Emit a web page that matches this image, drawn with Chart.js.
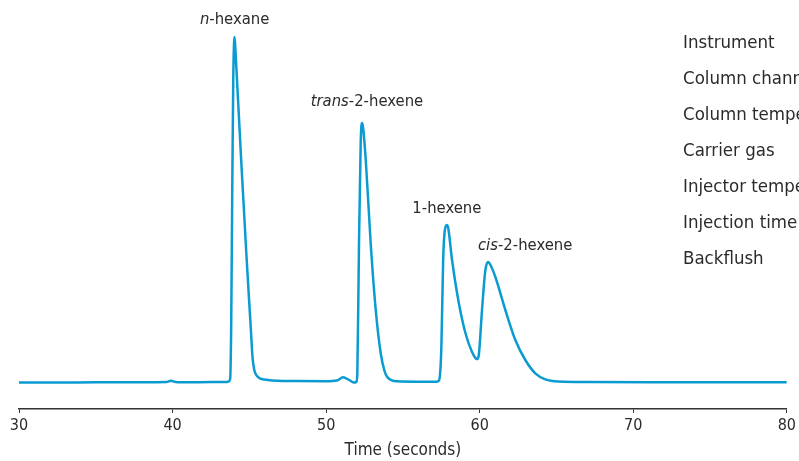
<!DOCTYPE html>
<html>
<head>
<meta charset="utf-8">
<script src="https://cdn.jsdelivr.net/npm/chart.js@4"></script>
<style>
  body { margin: 0; background: #fff; }
</style>
</head>
<body>
<canvas id="chromChart" width="799" height="461"></canvas>
<script>
// Retention time (s) and detector signal (arbitrary units)
const times = [
  30, 32, 35, 38, 39.6, 39.9, 40.2, 41, 42.5, 43.5,
  43.65, 43.75, 43.82, 43.88, 43.95, 44.0, 44.04, 44.1, 44.46, 44.82,
  45.1, 45.21, 45.32, 45.45, 45.6, 45.8, 46.2, 46.8, 48, 50,
  50.7, 51.1, 51.5, 51.8, 51.97, 52.03, 52.14, 52.25, 52.33, 52.4,
  52.58, 52.9, 53.23, 53.55, 53.8, 53.98, 54.3, 54.6, 56, 57.2,
  57.35, 57.45, 57.51, 57.62, 57.73, 57.86, 57.95, 58.2, 58.64, 59.07,
  59.5, 59.75, 59.85, 59.95, 60.15, 60.37, 60.55, 60.7, 61.02, 61.67,
  62.32, 62.97, 63.62, 64.27, 65.13, 67, 72, 80
];
const signal = [
  -0.5, -0.5, -0.3, -0.2, 0, 1.2, 0, -0.3, 0, 0,
  0.5, 3, 60, 180, 300, 338, 345, 330, 224, 124,
  52, 24, 12, 7, 4.5, 3, 2, 1.3, 1, 0.8,
  1.5, 4.7, 2, -0.5, 0, 8, 139, 239, 259, 255,
  222, 139, 72, 29, 11, 5, 1.5, 0.7, 0.3, 0.3,
  1.5, 15, 39, 122, 152, 157, 154, 122, 79, 49,
  30, 23.5, 23, 28, 72, 112, 120, 117, 105, 72,
  42, 22, 8.7, 2.7, 0.5, 0, -0.2, -0.3
];

// Peak labels: [italic part, regular part] and retention time
const peakLabels = [["n", "-hexane"], ["trans", "-2-hexene"], ["", "1-hexene"], ["cis", "-2-hexene"]];
const peakTimes = [44.04, 52.33, 57.86, 60.55];

const infoLines = [
  "Instrument",
  "Column channel",
  "Column temperature",
  "Carrier gas",
  "Injector temperature",
  "Injection time",
  "Backflush"
];

const FONT = '"DejaVu Sans Condensed", "DejaVu Sans", sans-serif';
const TEXT = "#2b2b2b";

const annotations = {
  id: "annotations",
  afterDraw(chart) {
    const ctx = chart.ctx;
    const xs = chart.scales.x;
    const ys = chart.scales.y;
    const dx = [0, 5, 0, 37];
    const dy = [17, 21, 16, 16];
    ctx.save();
    ctx.fillStyle = TEXT;
    ctx.textBaseline = "middle";
    peakLabels.forEach((parts, i) => {
      let top = 0;
      times.forEach((t, j) => {
        if (Math.abs(t - peakTimes[i]) < 0.3) top = Math.max(top, signal[j]);
      });
      const cx = xs.getPixelForValue(peakTimes[i]) + dx[i];
      const cy = ys.getPixelForValue(top) - dy[i];
      const it = "italic 16.5px " + FONT;
      const rg = "16.5px " + FONT;
      ctx.font = it;
      const w1 = ctx.measureText(parts[0]).width;
      ctx.font = rg;
      const w2 = ctx.measureText(parts[1]).width;
      const x = cx - (w1 + w2) / 2;
      ctx.textAlign = "left";
      ctx.font = it;
      ctx.fillText(parts[0], x, cy);
      ctx.font = rg;
      ctx.fillText(parts[1], x + w1, cy);
    });
    ctx.font = "18.5px " + FONT;
    ctx.textBaseline = "alphabetic";
    infoLines.forEach((line, i) => {
      ctx.fillText(line, 683, 48 + 36 * i);
    });
    ctx.restore();
  }
};

const ctx = document.getElementById("chromChart").getContext("2d");

new Chart(ctx, {
  type: "line",
  data: {
    datasets: [{
      data: times.map((t, i) => ({ x: t, y: signal[i] })),
      borderColor: "#0a9bd0",
      borderWidth: 2.5,
      pointRadius: 0,
      fill: false,
      cubicInterpolationMode: "monotone",
    }],
  },
  options: {
    responsive: false,
    animation: false,
    devicePixelRatio: 1,
    layout: { padding: { top: 10, left: 19, right: 10, bottom: 0 } },
    plugins: {
      legend: { display: false },
      tooltip: { enabled: false },
    },
    scales: {
      x: {
        type: "linear",
        min: 30,
        max: 80,
        afterFit: (scale) => { scale.height = 52; },
        ticks: {
          stepSize: 10,
          color: TEXT,
          padding: 3,
          font: { family: FONT, size: 16 },
        },
        grid: {
          drawOnChartArea: false,
          tickLength: 4,
          color: "#333",
        },
        border: { display: true, color: "#333", width: 1.5 },
        title: {
          display: true,
          text: "Time (seconds)",
          color: TEXT,
          font: { family: FONT, size: 17 },
          padding: { top: 0, bottom: 0 },
        },
      },
      y: {
        display: false,
        min: -27,
        max: 372,
      },
    },
  },
  plugins: [annotations],
});
</script>
</body>
</html>
